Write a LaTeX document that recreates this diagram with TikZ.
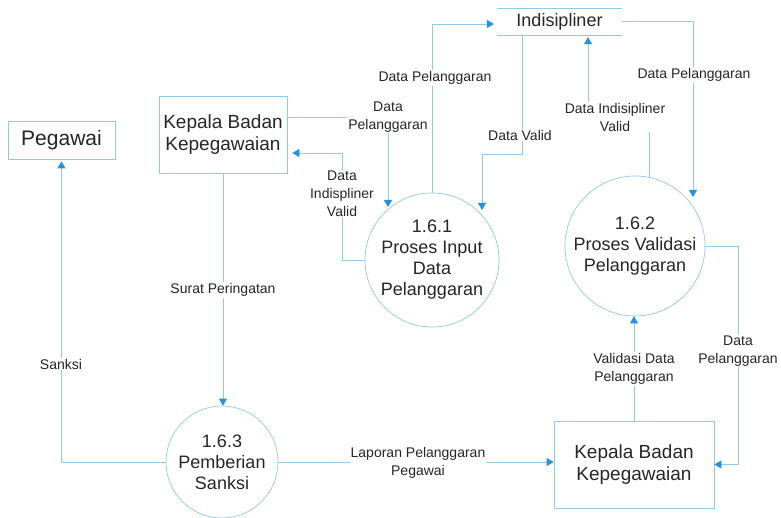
\documentclass[tikz,border=0pt]{standalone}
\usepackage{fontspec}
\setmainfont{Liberation Sans}
\usetikzlibrary{arrows.meta}
\definecolor{flowline}{HTML}{8FC9EC}
\definecolor{tipblue}{HTML}{2590DD}
\definecolor{ink}{HTML}{262626}
\tikzset{
  entity/.style={draw=flowline, line width=0.8pt, fill=white, text=ink, align=center,
    font=\fontsize{19}{22}\selectfont, inner sep=0pt},
  proc/.style={circle, draw=flowline, line width=0.7pt, fill=white, text=ink, align=center,
    font=\fontsize{18}{21}\selectfont, inner sep=0pt},
  flow/.style={draw=flowline, line width=0.8pt,
    -{Triangle[length=7pt,width=8pt,color=tipblue]}},
  lbl/.style={fill=white, text=ink, align=center, font=\fontsize{14}{18}\selectfont,
    inner sep=1pt}
}
\begin{document}
\begin{tikzpicture}[x=1pt,y=-1pt]
\useasboundingbox (0,0) rectangle (781,518);

% external entities
\node[entity, minimum width=107pt, minimum height=38pt, font=\fontsize{21}{24}\selectfont]
  (pg) at (61.5,140) {Pegawai};
\node[entity, minimum width=128pt, minimum height=77pt] (kb1) at (223,134.5)
  {Kepala Badan\\Kepegawaian};
\node[entity, minimum width=160pt, minimum height=87pt] (kb2) at (634,464.5)
  {Kepala Badan\\Kepegawaian};

% data store
\node[text=ink, font=\fontsize{18}{21}\selectfont, minimum width=125pt,
  minimum height=26pt, inner sep=0pt] (st) at (559.5,22) {Indisipliner};
\draw[draw=flowline, line width=0.8pt] (st.north west) -- (st.north east)
  (st.south west) -- (st.south east);

% processes
\node[proc, minimum size=134pt] (c1) at (432,260) {1.6.1\\Proses Input\\Data\\Pelanggaran};
\node[proc, minimum size=140pt] (c2) at (635,246) {1.6.2\\Proses Validasi\\Pelanggaran};
\node[proc, minimum size=112pt] (c3) at (222,462) {1.6.3\\Pemberian\\Sanksi};

% data flows
\draw[flow] (kb1.east |- 0,117) -| (388,207);
\draw[flow] (c1.west) -| (342,153) -- ([xshift=5pt]kb1.east |- 0,153);
\draw[flow] (c1.north) |- ([xshift=-3pt]st.west |- 0,24);
\draw[flow] (st.south -| 522,0) -- (522,154) -- (482,154) -- (482,210);
\draw[flow] (st.east |- 0,21) -| (693,197);
\draw[flow] (c2.78) |- (588,117) -- ([yshift=-2pt]st.south -| 588,0);
\draw[flow] (kb2.north) -- (kb2.north |- c2.south);
\draw[flow] (c2.east) -| ([xshift=24pt]kb2.east) -- (kb2.east);
\draw[flow] (c3.east) -- (kb2.west |- c3.east);
\draw[flow] (kb1.south) -- (kb1.south |- c3.north);
\draw[flow] (c3.west) -| ([yshift=-2pt]pg.south);

% flow labels
\node[lbl] (l1) at (435,78) {Data Pelanggaran};
\node[lbl] (l2) at (388,117) {Data\\Pelanggaran};
\node[lbl] (l3) at (342,193.5) {Data\\Indispliner\\Valid};
\node[lbl] (l4) at (520,135) {Data Valid};
\node[lbl] (l5) at (615,117) {Data Indisipliner\\Valid};
\node[lbl] (l6) at (694,75) {Data Pelanggaran};
\node[lbl] (l7) at (634,369) {Validasi Data\\Pelanggaran};
\node[lbl] (l8) at (738,351) {Data\\Pelanggaran};
\node[lbl] (l9) at (418,463) {Laporan Pelanggaran\\Pegawai};
\node[lbl] (l10) at (223,290) {Surat Peringatan};
\node[lbl] (l11) at (61,364) {Sanksi};
\end{tikzpicture}
\end{document}
